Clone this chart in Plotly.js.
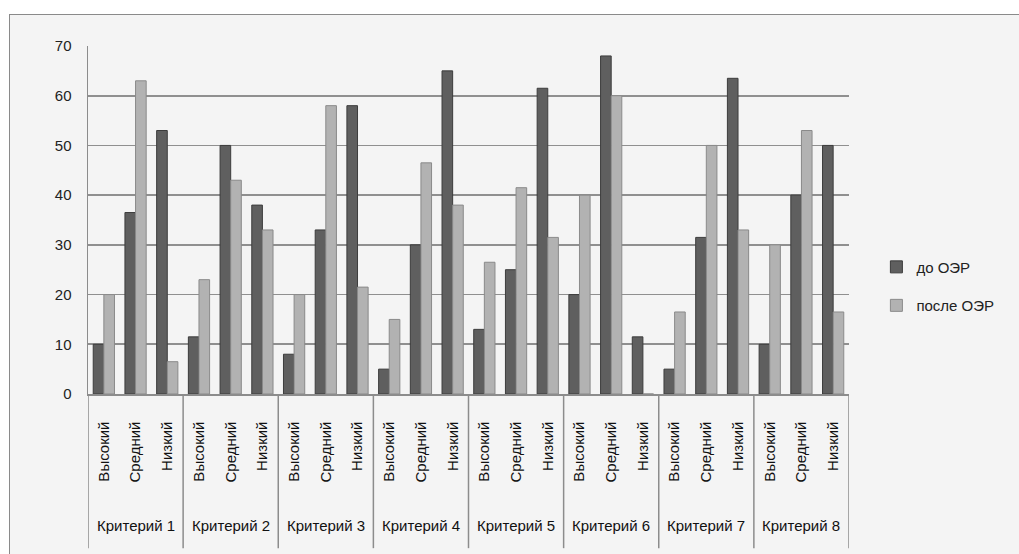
<!DOCTYPE html>
<html>
<head>
<meta charset="utf-8">
<script src="https://cdn.plot.ly/plotly-3.0.1.min.js"></script>
<style>
  html, body { margin: 0; padding: 0; background: #ffffff; overflow: hidden; }
  #frame { position: absolute; left: 9px; top: 14px; width: 1040px; height: 540px;
           border-left: 1px solid #8a8a8a; border-top: 1px solid #8a8a8a; background: #f4f4f4; }
  #chart { width: 1040px; height: 540px; }
</style>
</head>
<body>
<div id="frame"><div id="chart"></div></div>
<script>
const criteria = ['Критерий 1','Критерий 2','Критерий 3','Критерий 4','Критерий 5','Критерий 6','Критерий 7','Критерий 8'];
const levels = ['Высокий','Средний','Низкий'];
const seriesNames = ['до ОЭР','после ОЭР'];
const before = [10,36.5,53, 11.5,50,38, 8,33,58, 5,30,65, 13,25,61.5, 20,68,11.5, 5,31.5,63.5, 10,40,50];
const after  = [20,63,6.5, 23,43,33, 20,58,21.5, 15,46.5,38, 26.5,41.5,31.5, 40,60,0, 16.5,50,33, 30,53,16.5];
const yTicks = [0,10,20,30,40,50,60,70];

// category index positions derived from the category arrays
const xIdx = [], levelCol = [];
criteria.forEach((c, g) => levels.forEach((l, k) => { xIdx.push(g * levels.length + k); levelCol.push(l); }));

const FF = 'Liberation Sans, Arial, sans-serif';
const nL = levels.length;

const traces = [
  {type: 'bar', name: seriesNames[0], x: xIdx, y: before,
   marker: {color: '#5f5f5f', line: {color: '#3c3c3c', width: 1}}, legendgroup: 'a'},
  {type: 'bar', name: seriesNames[1], x: xIdx, y: after,
   marker: {color: '#b2b2b2', line: {color: '#8a8a8a', width: 1}}, legendgroup: 'b'}
];

const annotations = criteria.map((c, g) => ({
  text: c, x: g * nL + (nL - 1) / 2, xref: 'x', y: -0.379, yref: 'paper',
  showarrow: false, xanchor: 'center', yanchor: 'middle',
  font: {family: FF, size: 15, color: '#111'}
}));

const shapes = [];
for (let g = 0; g <= criteria.length; g++) {
  shapes.push({type: 'line', xref: 'x', yref: 'paper', x0: g * nL - 0.5, x1: g * nL - 0.5,
               y0: 0, y1: -0.443, line: {color: '#8c8c8c', width: 1.5}});
}

const layout = {
  width: 1040, height: 540,
  paper_bgcolor: 'rgba(0,0,0,0)', plot_bgcolor: '#f4f4f4',
  margin: {l: 78, r: 201, t: 31, b: 161},
  font: {family: FF, size: 13, color: '#222'},
  barmode: 'group', bargap: 0.33, bargroupgap: 0,
  showlegend: true,
  legend: {x: 1.036, y: 0.31, xanchor: 'left', yanchor: 'middle', bgcolor: 'rgba(0,0,0,0)',
           font: {family: FF, size: 15, color: '#222'}, itemwidth: 30,
           traceorder: 'grouped', tracegroupgap: 16},
  xaxis: {range: [-0.5, xIdx.length - 0.5], tickvals: xIdx, ticktext: levelCol, tickangle: -90,
          showline: true, linecolor: '#8c8c8c', linewidth: 1.5, ticks: '', showgrid: false, zeroline: false,
          ticklabelstandoff: 20, tickfont: {family: FF, size: 15, color: '#111'}},
  yaxis: {range: [0, 70], tickvals: yTicks, ticktext: yTicks.map(String), showgrid: true,
          gridcolor: '#8f8f8f', gridwidth: 1.6, showline: true, linecolor: '#8c8c8c', linewidth: 1.5,
          zeroline: false, ticks: '', ticklabelstandoff: 12,
          tickfont: {family: FF, size: 15, color: '#222'}},
  annotations: annotations,
  shapes: shapes
};

Plotly.newPlot('chart', traces, layout, {displayModeBar: false, staticPlot: true});
</script>
</body>
</html>
